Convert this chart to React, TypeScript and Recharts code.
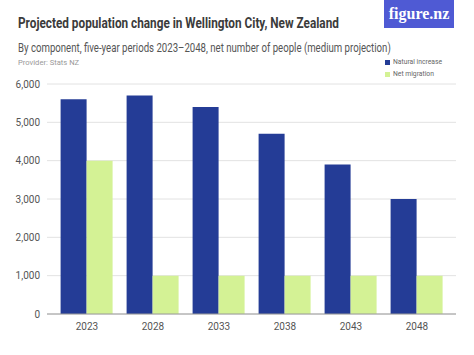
import { BarChart, Bar, XAxis, YAxis, CartesianGrid } from 'recharts'

const years = ['2023', '2028', '2033', '2038', '2043', '2048']
const naturalIncrease = [5600, 5700, 5400, 4700, 3900, 3000]
const netMigration = [4000, 1000, 1000, 1000, 1000, 1000]
const yTicks = [0, 1000, 2000, 3000, 4000, 5000, 6000]

const data = years.map((y, i) => ({
  year: y,
  natural: naturalIncrease[i],
  migration: netMigration[i],
}))

const DARK = '#243c96'
const LIGHT = '#d4f295'
const FONT = 'Roboto, sans-serif'

// squeeze text horizontally to mimic the condensed font of the original
const squeeze = (s: number): React.CSSProperties => ({
  display: 'inline-block',
  transform: `scaleX(${s})`,
  transformOrigin: 'left center',
  whiteSpace: 'nowrap',
})

export default function App() {
  return (
    <div style={{ position: 'absolute', left: 0, top: 0, width: 474, height: 355, background: '#fff', fontFamily: FONT }}>
      <div style={{ position: 'absolute', left: 384, top: 0, width: 70, height: 28, background: '#4f5ad4', color: '#fff', fontFamily: '"Liberation Serif", serif', fontWeight: 700, fontSize: 16, textAlign: 'center', lineHeight: '27px' }}>
        figure.nz
      </div>
      <div style={{ position: 'absolute', left: 18, top: 14, fontSize: 15.5, fontWeight: 700, color: '#3b3b3b' }}>
        <span style={squeeze(0.76)}>Projected population change in Wellington City, New Zealand</span>
      </div>
      <div style={{ position: 'absolute', left: 18, top: 40, fontSize: 13, color: '#555' }}>
        <span style={squeeze(0.74)}>By component, five-year periods 2023–2048, net number of people (medium projection)</span>
      </div>
      <div style={{ position: 'absolute', left: 18, top: 58, fontSize: 8, color: '#999' }}>
        <span style={squeeze(0.95)}>Provider: Stats NZ</span>
      </div>
      <div style={{ position: 'absolute', left: 385, top: 56, fontSize: 7.5, color: '#666', lineHeight: '12px' }}>
        <div style={{ display: 'flex', alignItems: 'center' }}>
          <span style={{ width: 5, height: 5, background: DARK, marginRight: 3, display: 'inline-block' }} />
          <span style={squeeze(0.9)}>Natural increase</span>
        </div>
        <div style={{ display: 'flex', alignItems: 'center' }}>
          <span style={{ width: 5, height: 5, background: LIGHT, marginRight: 3, display: 'inline-block' }} />
          <span style={squeeze(0.9)}>Net migration</span>
        </div>
      </div>
      <div style={{ position: 'absolute', left: 0, top: 0 }}>
        <BarChart
          width={474}
          height={355}
          data={data}
          margin={{ top: 84, right: 18, left: 0, bottom: 11 }}
          barCategoryGap="10%"
          barGap={0}
        >
          <CartesianGrid stroke="#e2e2e2" vertical={false} />
          <XAxis
            dataKey="year"
            height={30}
            padding={{ left: 7, right: 6 }}
            tick={{ fontSize: 10, fill: '#555', fontFamily: FONT }}
            tickLine={false}
            axisLine={{ stroke: '#9a9a9a' }}
            tickMargin={3}
          />
          <YAxis
            width={47}
            domain={[0, 6000]}
            ticks={yTicks}
            tickFormatter={(v: number) => v.toLocaleString('en-US')}
            tick={{ fontSize: 10, fill: '#555', fontFamily: FONT }}
            tickLine={false}
            axisLine={false}
            tickMargin={1}
          />
          <Bar dataKey="natural" fill={DARK} isAnimationActive={false} />
          <Bar dataKey="migration" fill={LIGHT} isAnimationActive={false} />
        </BarChart>
      </div>
    </div>
  )
}
